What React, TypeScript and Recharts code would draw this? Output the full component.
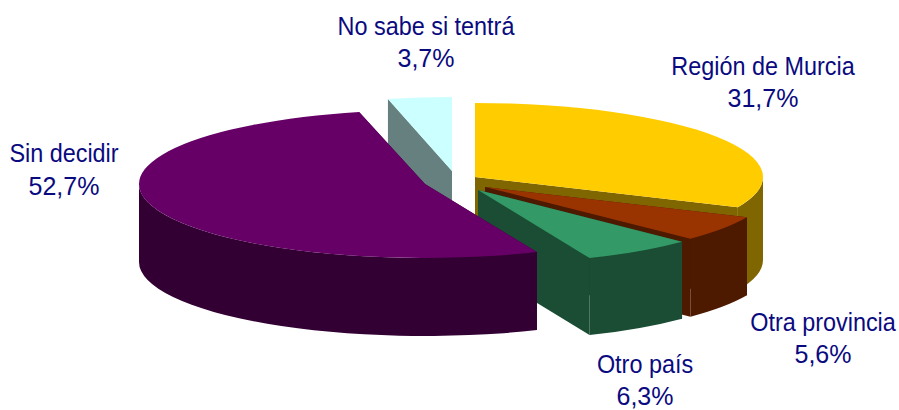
import React from "react";
import { PieChart, Pie } from "recharts";

// Drawn back-to-front; the first slice ends at 12 o'clock so the order is also clockwise.
const categories = ["No sabe si tentrá", "Región de Murcia", "Otra provincia", "Otro país", "Sin decidir"];
const shares = [3.7, 31.7, 5.6, 6.3, 52.7];
const topColors = ["#ccffff", "#ffcc00", "#993300", "#339966", "#660066"];
const wallColors = ["#668080", "#806600", "#4d1a00", "#1a4d33", "#330033"];

// Styling of the exploded 3D look (offset from the pie centre, radius, extrusion)
const sliceDx = [0, 23, 33, 26, -27];
const sliceDy = [-13, -7, 3, 6, 0];
const sliceRx = [278, 288, 287, 285, 286];
const sliceDepth = [78, 83, 78, 77, 78];
const labelCx = [426, 763, 823, 645, 64];
const labelY1 = [35, 75, 331, 373, 162];
const labelY2 = [67, 107, 363, 404.5, 195];

const PIE_CX = 452;
const PIE_CY = 184;
const RADIUS = 286;
const RY = 74;
const FONT = "'Liberation Sans', Arial, sans-serif";
const FONT_SIZE = 25;
const NAME_SQUEEZE = 0.936;
const TEXT_COLOR = "#0a0a80";

const data = categories.map((name, i) => ({ name, value: shares[i], fill: topColors[i] }));

function SliceShape(props: any) {
  const i = categories.indexOf(props.name ?? props.payload?.name);
  const cx = props.cx + sliceDx[i];
  const cy = props.cy + sliceDy[i];
  const rx = sliceRx[i];
  const depth = sliceDepth[i];
  const a0 = props.startAngle;
  const a1 = props.endAngle;
  const pt = (deg: number, d = 0): [number, number] => {
    const r = (deg * Math.PI) / 180;
    return [cx + rx * Math.cos(r), cy - RY * Math.sin(r) + d];
  };
  const p0 = pt(a0);
  const p1 = pt(a1);
  const large = a0 - a1 > 180 ? 1 : 0;
  const top = `M${cx},${cy} L${p0[0]},${p0[1]} A${rx},${RY} 0 ${large} 1 ${p1[0]},${p1[1]} Z`;
  const cut = (p: [number, number]) =>
    `M${cx},${cy} L${p[0]},${p[1]} L${p[0]},${p[1] + depth} L${cx},${cy + depth} Z`;
  const f0 = Math.min(a0, 0);
  const f1 = Math.max(a1, -180);
  let wall = "";
  if (f0 > f1) {
    const w0 = pt(f0);
    const w1 = pt(f1);
    const wl = f0 - f1 > 180 ? 1 : 0;
    wall = `M${w0[0]},${w0[1]} A${rx},${RY} 0 ${wl} 1 ${w1[0]},${w1[1]} L${w1[0]},${w1[1] + depth} A${rx},${RY} 0 ${wl} 0 ${w0[0]},${w0[1] + depth} Z`;
  }
  const dark = wallColors[i];
  return (
    <g>
      <path d={cut(p0)} fill={dark} />
      <path d={cut(p1)} fill={dark} />
      {wall && <path d={wall} fill={dark} />}
      <path d={top} fill={props.fill} />
    </g>
  );
}

function SliceLabel(props: any) {
  const i = categories.indexOf(props.name ?? props.payload?.name);
  const pct = shares[i].toFixed(1).replace(".", ",") + "%";
  return (
    <g fontFamily={FONT} fontSize={FONT_SIZE} fill={TEXT_COLOR} textAnchor="middle">
      <text transform={`translate(${labelCx[i]} ${labelY1[i]}) scale(${NAME_SQUEEZE} 1)`}>{categories[i]}</text>
      <text x={labelCx[i]} y={labelY2[i]}>{pct}</text>
    </g>
  );
}

export default function App() {
  return (
    <div style={{ position: "absolute", left: 0, top: 0, width: 899, height: 410, background: "#fff" }}>
      <PieChart width={899} height={410} margin={{ top: 0, right: 0, bottom: 0, left: 0 }}>
        <Pie
          data={data}
          dataKey="value"
          nameKey="name"
          cx={PIE_CX}
          cy={PIE_CY}
          innerRadius={0}
          outerRadius={RADIUS}
          startAngle={90 + (shares[0] / 100) * 360}
          endAngle={90 + (shares[0] / 100) * 360 - 360}
          paddingAngle={0}
          stroke="none"
          isAnimationActive={false}
          shape={SliceShape}
          label={SliceLabel}
          labelLine={false}
        />
      </PieChart>
    </div>
  );
}
